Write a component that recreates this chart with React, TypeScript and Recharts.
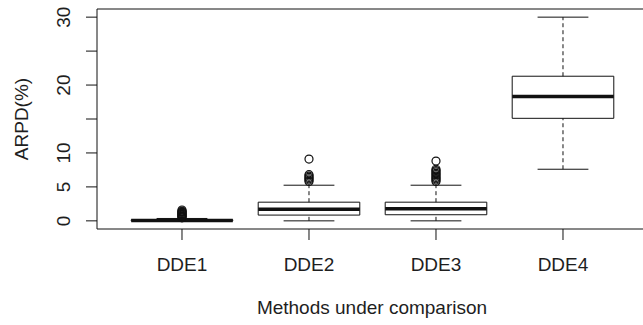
import React from 'react';
import {
  ComposedChart, XAxis, YAxis, Scatter, ReferenceArea, ReferenceLine, Label,
} from 'recharts';

// Box plot summary per method
const categories = ['DDE1', 'DDE2', 'DDE3', 'DDE4'];
const lowerWhisker = [0, 0, 0, 7.6];
const q1 = [0, 0.85, 0.9, 15.1];
const median = [0.05, 1.7, 1.8, 18.3];
const q3 = [0.15, 2.75, 2.75, 21.3];
const upperWhisker = [0.35, 5.25, 5.25, 30];

// Outliers per method
const outliersDDE1 = [0.45, 0.55, 0.65, 0.75, 0.85, 0.95, 1.05, 1.15, 1.25, 1.35, 1.45, 1.6];
const outliersDDE2 = [5.8, 6.0, 6.2, 6.4, 6.6, 6.8, 9.1];
const outliersDDE3 = [5.8, 6.0, 6.2, 6.4, 6.6, 6.8, 7.0, 7.2, 7.4, 7.6, 8.8];
const outliersDDE4: number[] = [];

const yTicks = [0, 5, 10, 15, 20, 25, 30];
const yTickLabels = [0, 5, 10, 20, 30];
const xTicks = [1, 2, 3, 4];

const yDomain = [-1.2, 31.2];
const xDomain = [0.3307, 4.63];

const BOX_HALF = 0.4;
const CAP_HALF = 0.2;
const INK = '#111';
const TEXT = '#1e1e1e';
const FONT = '"Liberation Sans", Arial, Helvetica, sans-serif';
const FS = 19;

const outlierData = [outliersDDE1, outliersDDE2, outliersDDE3, outliersDDE4].flatMap((vals, i) =>
  vals.map(v => ({ x: i + 1, y: v }))
);

const YTick = (props: any) => {
  const { x, y, payload } = props;
  if (!yTickLabels.includes(payload.value)) return null;
  return (
    <text
      x={x}
      y={y}
      transform={`rotate(-90 ${x} ${y})`}
      textAnchor="middle"
      fill={TEXT}
      fontSize={FS}
      fontFamily={FONT}
    >
      {payload.value}
    </text>
  );
};

const App: React.FC = () => {
  return (
    <div style={{ width: 643, height: 325, background: '#fff' }}>
      <style>{`body{margin:0;}`}</style>
      <ComposedChart
        width={643}
        height={325}
        margin={{ top: 9, right: 0, left: 0, bottom: 0 }}
      >
        <XAxis
          type="number"
          dataKey="x"
          domain={xDomain}
          ticks={xTicks}
          interval={0}
          allowDataOverflow
          tickFormatter={(v: number) => categories[v - 1] ?? ''}
          height={96}
          tickSize={11}
          tickMargin={18}
          axisLine={{ stroke: INK }}
          tickLine={{ stroke: INK }}
          tick={{ fill: TEXT, fontSize: FS, fontFamily: FONT }}
        >
          <Label
            content={() => (
              <text x={372} y={314} textAnchor="middle" fill={TEXT} fontSize={FS} fontFamily={FONT}>
                Methods under comparison
              </text>
            )}
          />
        </XAxis>
        <YAxis
          type="number"
          dataKey="y"
          domain={yDomain}
          ticks={yTicks}
          interval={0}
          allowDataOverflow
          width={97}
          tickSize={11}
          tickMargin={15.5}
          axisLine={{ stroke: INK }}
          tickLine={{ stroke: INK }}
          tick={<YTick />}
        >
          <Label
            content={() => (
              <text
                x={27.5}
                y={119}
                transform="rotate(-90 27.5 119)"
                textAnchor="middle"
                fill={TEXT}
                fontSize={FS}
                fontFamily={FONT}
              >
                ARPD(%)
              </text>
            )}
          />
        </YAxis>

        {/* top frame */}
        <ReferenceLine y={yDomain[1]} stroke={INK} strokeWidth={1} />

        {categories.map((c, i) => {
          const x = i + 1;
          return (
            <React.Fragment key={c}>
              <ReferenceLine
                segment={[{ x, y: q3[i] }, { x, y: upperWhisker[i] }]}
                stroke={INK}
                strokeDasharray="4 3"
              />
              <ReferenceLine
                segment={[{ x, y: lowerWhisker[i] }, { x, y: q1[i] }]}
                stroke={INK}
                strokeDasharray="4 3"
              />
              <ReferenceLine
                segment={[{ x: x - CAP_HALF, y: upperWhisker[i] }, { x: x + CAP_HALF, y: upperWhisker[i] }]}
                stroke={INK}
              />
              <ReferenceLine
                segment={[{ x: x - CAP_HALF, y: lowerWhisker[i] }, { x: x + CAP_HALF, y: lowerWhisker[i] }]}
                stroke={INK}
              />
              <ReferenceArea
                x1={x - BOX_HALF}
                x2={x + BOX_HALF}
                y1={q1[i]}
                y2={q3[i]}
                fill="#fff"
                fillOpacity={1}
                stroke={INK}
                strokeWidth={1}
              />
              <ReferenceLine
                segment={[{ x: x - BOX_HALF, y: median[i] }, { x: x + BOX_HALF, y: median[i] }]}
                stroke={INK}
                strokeWidth={3.5}
              />
            </React.Fragment>
          );
        })}

        <Scatter
          data={outlierData}
          dataKey="y"
          isAnimationActive={false}
          shape={(p: any) => (
            <circle cx={p.cx} cy={p.cy} r={4} fill="none" stroke={INK} strokeWidth={1.2} />
          )}
        />
      </ComposedChart>
    </div>
  );
};

export default App;
